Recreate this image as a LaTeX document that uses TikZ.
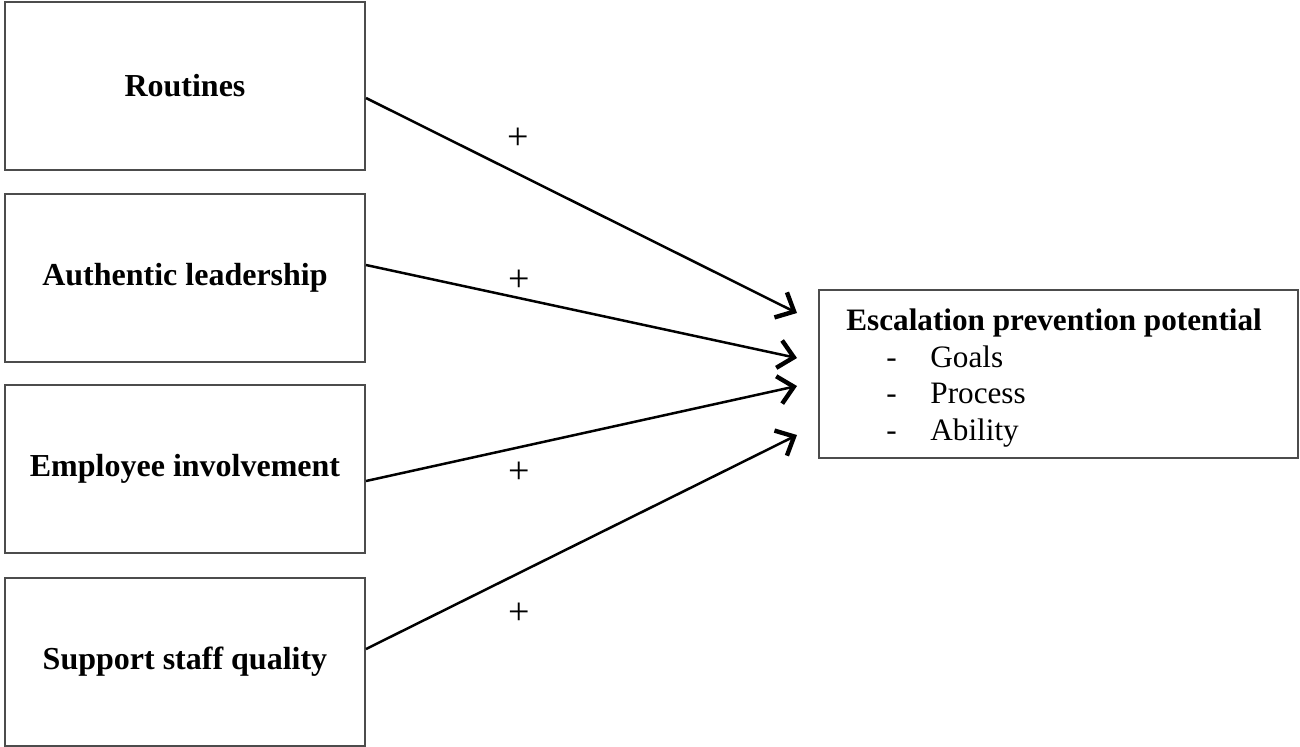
\documentclass[tikz,border=0pt]{standalone}
\usepackage{fontspec}
\setmainfont{Liberation Serif}
\usetikzlibrary{arrows.meta,calc}
\begin{document}
\begin{tikzpicture}[x=0.5pt,y=-0.5pt,
  leftbox/.style={draw=black!70,line width=1pt,minimum width=180pt,minimum height=84pt,inner sep=0pt,font=\fontsize{16pt}{19pt}\selectfont\bfseries},
  rightbox/.style={draw=black!70,line width=1pt,minimum width=239.5pt,minimum height=84pt,inner sep=0pt},
  txt/.style={inner sep=0pt,anchor=base west,font=\fontsize{15.6pt}{19pt}\selectfont},
  plus/.style={inner sep=0pt,font=\fontsize{19pt}{21pt}\selectfont},
  link/.style={line width=1.25pt,-{Straight Barb[length=7.5pt,width=14pt,line width=2.2pt]}}]
\useasboundingbox[fill=white] (0,0) rectangle (1300,746);
\node[leftbox] (r1) at (185,86) {Routines};
\node[leftbox] (r2) at (185,277.5) {Authentic leadership};
\node[leftbox] (r3) at (185,469) {Employee involvement};
\node[leftbox] (r4) at (185,661.5) {Support staff quality};
\node[rightbox] (ep) at (1058.5,374) {};
\node[txt,font=\fontsize{15.6pt}{19pt}\selectfont\bfseries] (t0) at (846,330) {Escalation prevention potential};
\node[txt] (d1) at (886,367) {-};
\node[txt] (g1) at (930,367) {Goals};
\node[txt] (d2) at (886,403) {-};
\node[txt] (g2) at (930,403) {Process};
\node[txt] (d3) at (886,440) {-};
\node[txt] (g3) at (930,440) {Ability};
\coordinate (e1) at (797,313);
\coordinate (e2) at (797,358);
\coordinate (e3) at (797,386);
\coordinate (e4) at (797,435);
\draw[link] ($(r1.east)+(0,12)$) -- (e1);
\draw[link] ($(r2.east)+(0,-12.5)$) -- (e2);
\draw[link] ($(r3.east)+(0,12)$) -- (e3);
\draw[link] ($(r4.east)+(0,-12.5)$) -- (e4);
\node[plus] (p1) at (518,139) {+};
\node[plus] (p2) at (519,281) {+};
\node[plus] (p3) at (519,473) {+};
\node[plus] (p4) at (519,614) {+};
\end{tikzpicture}
\end{document}
